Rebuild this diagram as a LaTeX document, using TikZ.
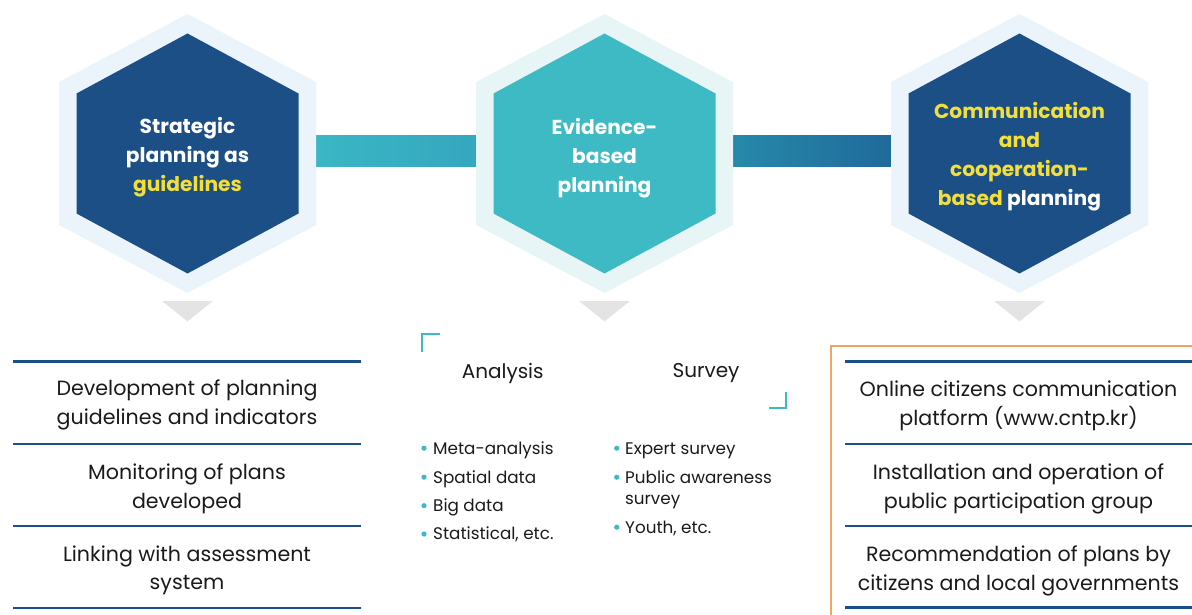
\documentclass[tikz,border=0pt]{standalone}
\usepackage{fontspec}
\setmainfont{Poppins}
\usetikzlibrary{calc}

\definecolor{navy}{HTML}{1D4F87}
\definecolor{tealcore}{HTML}{3DBAC4}
\definecolor{haloblue}{HTML}{EAF4FA}
\definecolor{haloteal}{HTML}{E8F5F6}
\definecolor{gold}{HTML}{F4DF3A}
\definecolor{tri}{HTML}{E4E4E4}
\definecolor{barAa}{HTML}{3AB6C4}
\definecolor{barAb}{HTML}{35A7BF}
\definecolor{barBa}{HTML}{2789AA}
\definecolor{barBb}{HTML}{1F6A9A}
\definecolor{orangeframe}{HTML}{F4A460}
\definecolor{ink}{HTML}{1A1A1A}

\tikzset{
  hexlabel/.style={text=white, font=\fontsize{20.2}{29}\selectfont\bfseries, align=center, inner sep=0pt},
  listitem/.style={text=ink, font=\fontsize{20.6}{28.5}\selectfont, align=center, inner sep=0pt},
  rule/.style={draw=navy, line width=2.6pt},
  heading/.style={text=ink, font=\fontsize{20}{24}\selectfont, inner sep=0pt},
  bitem/.style={text=ink, font=\fontsize{16.8}{20}\selectfont, inner sep=0pt, anchor=base west},
  dot/.style={fill=tealcore},
  bracket/.style={draw=tealcore, line width=2pt},
}

% draws the halo hexagon, the core hexagon and the pointer below a centre
\newcommand\badge[3]{%
  \fill[#2] ($(#1)+(0,-139.5)$) -- ($(#1)+(128.5,-71.5)$) -- ($(#1)+(128.5,71.5)$)
     -- ($(#1)+(0,139.5)$) -- ($(#1)+(-128.5,71.5)$) -- ($(#1)+(-128.5,-71.5)$) -- cycle;
  \fill[#3] ($(#1)+(0,-120)$) -- ($(#1)+(111,-60)$) -- ($(#1)+(111,60)$)
     -- ($(#1)+(0,120)$) -- ($(#1)+(-111,60)$) -- ($(#1)+(-111,-60)$) -- cycle;
  \fill[tri] ($(#1)+(-25.5,147.5)$) -- ($(#1)+(25.5,147.5)$) -- ($(#1)+(0,168)$) -- cycle;
}

\begin{document}
\begin{tikzpicture}[x=1pt,y=-1pt]
\clip (0,0) rectangle (1192,615);
\useasboundingbox (0,0) rectangle (1192,615);

% centres of the three badges
\coordinate (c1) at (187.5,153.5);
\coordinate (c2) at (604.5,153.5);
\coordinate (c3) at (1019.5,153.5);

% connecting bars
\coordinate (b1s) at ($(c1)+(128.5,-17.5)$);
\coordinate (b1e) at ($(c2)+(-128.5,13.2)$);
\coordinate (b2s) at ($(c2)+(128.5,-17.5)$);
\coordinate (b2e) at ($(c3)+(-128.5,13.2)$);
\shade[left color=barAa, right color=barAb] (b1s) rectangle (b1e);
\shade[left color=barBa, right color=barBb] (b2s) rectangle (b2e);

\badge{c1}{haloblue}{navy}
\badge{c2}{haloteal}{tealcore}
\badge{c3}{haloblue}{navy}

\node[hexlabel] (h1) at ($(c1)+(0,3.5)$) {Strategic\\planning as\\\textcolor{gold}{guidelines}};
\node[hexlabel] (h2) at ($(c2)+(0,5)$) {Evidence-\\based\\planning};
\node[hexlabel] (h3) at ($(c3)+(0,3.5)$) {\textcolor{gold}{Communication}\\\textcolor{gold}{and}\\\textcolor{gold}{cooperation-}\\\textcolor{gold}{based} planning};

% left column
\foreach \y [count=\i] in {361.7,444,525.8,608}
  \draw[rule] (13,\y) coordinate (la\i) -- (361,\y) coordinate (lb\i);
\node[listitem] (l1) at (187,405) {Development of planning\\guidelines and indicators};
\node[listitem] (l2) at (187,489) {Monitoring of plans\\developed};
\node[listitem] (l3) at (187,570.5) {Linking with assessment\\system};

% right column
\draw[orangeframe, line width=1.6pt] (831,346) rectangle (1210,640);
\foreach \y [count=\i] in {361.7,444,526,607.7}
  \draw[rule] (845,\y) coordinate (ra\i) -- (1200,\y) coordinate (rb\i);
\node[listitem] (r1) at (1018.5,406) {Online citizens communication\\platform (www.cntp.kr)};
\node[listitem] (r2) at (1018.5,489) {Installation and operation of\\public participation group};
\node[listitem] (r3) at (1018.5,571) {Recommendation of plans by\\citizens and local governments};

% middle column
\draw[bracket] (422.3,352) -- (422.3,334.3) -- (440,334.3);
\draw[bracket] (769,408.3) -- (785.7,408.3) -- (785.7,391.5);
\node[heading] (ha) at (502.7,373.5) {Analysis};
\node[heading] (hs) at (706,373) {Survey};

\foreach \t/\y [count=\i] in {Meta-analysis/454, Spatial data/483, Big data/511.5, {Statistical, etc.}/539.8}{
  \node[bitem] (a\i) at (433,\y) {\t};
  \fill[dot] ($(a\i.base west)+(-9,-5.8)$) circle (2.6);
}
\foreach \t/\y [count=\i] in {Expert survey/454, Public awareness/483, {Youth, etc.}/533}{
  \node[bitem] (s\i) at (625,\y) {\t};
  \fill[dot] ($(s\i.base west)+(-8.3,-5.8)$) circle (2.6);
}
\node[bitem] (s2b) at (625,504.7) {survey};
\end{tikzpicture}
\end{document}
